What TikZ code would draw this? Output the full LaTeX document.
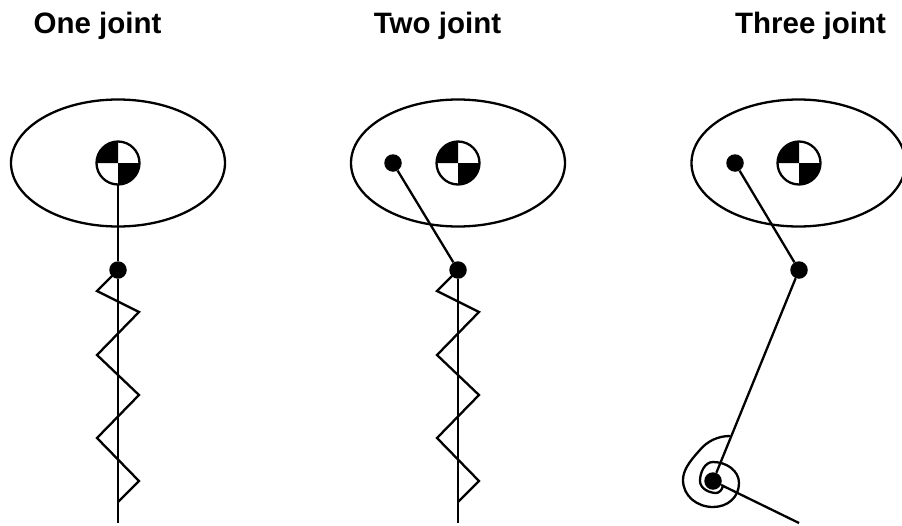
\documentclass[tikz,border=0pt]{standalone}
\usepackage{fontspec}
\setmainfont{Liberation Sans}
\usetikzlibrary{shapes.geometric}
\tikzset{
    body/.style={ellipse,draw,line width=2.3pt,minimum width=214pt,minimum height=127pt,inner sep=0pt},
    com/.style={circle,draw,line width=2.3pt,fill=white,minimum size=43pt,inner sep=0pt,outer sep=0pt},
    joint/.style={circle,fill=black,minimum size=17.5pt,inner sep=0pt},
    link/.style={line width=2.3pt},
    title/.style={font=\fontsize{29.5}{29.5}\selectfont\bfseries,anchor=base}
}
\newcommand{\quadrants}[1]{
    \fill (#1.center) -- (#1.west) arc (180:90:21.5pt) -- cycle;
    \fill (#1.center) -- (#1.east) arc (0:-90:21.5pt) -- cycle;
}
\newcommand{\springfrom}[1]{
    \draw[link,line join=miter] (#1) -- ++(-21,21) -- ++(42,21) -- ++(-42,43) -- ++(42,40) -- ++(-42,43) -- ++(42,43) -- ++(-21,21);
}
\begin{document}
\begin{tikzpicture}[x=1pt,y=-1pt]
    \useasboundingbox (0,0) rectangle (902,525);

    % Titoli
    \node[title] (titleone) at (97.5,33) {One joint};
    \node[title] (titletwo) at (437.5,33) {Two joint};
    \node[title] (titlethree) at (810.5,33) {Three joint};

    % One joint
    \node[body] (bodyone) at (118,163) {};
    \node[com] (comone) at (118,163) {};
    \quadrants{comone}
    \node[joint] (kneeone) at (118,270) {};
    \coordinate (endone) at (118,523);
    \draw[link] (comone) -- (kneeone);
    \draw[link] (kneeone) -- (endone);
    \springfrom{kneeone.center}

    % Two joint
    \node[body] (bodytwo) at (458,163) {};
    \node[com] (comtwo) at (458,163) {};
    \quadrants{comtwo}
    \node[joint] (hiptwo) at (393,163) {};
    \node[joint] (kneetwo) at (458,270) {};
    \coordinate (endtwo) at (458,523);
    \draw[link] (hiptwo) -- (kneetwo);
    \draw[link] (kneetwo) -- (endtwo);
    \springfrom{kneetwo.center}

    % Three joint
    \node[body] (bodythree) at (798.5,163) {};
    \node[com] (comthree) at (799,163) {};
    \quadrants{comthree}
    \node[joint] (hipthree) at (735,163) {};
    \node[joint] (kneethree) at (799,270) {};
    \node[joint] (anklethree) at (713,481) {};
    \coordinate (endthree) at (799,523);
    \coordinate (coilstart) at (730,436);
    \draw[link] (hipthree) -- (kneethree);
    \draw[link] (kneethree) -- (anklethree);
    \draw[link] (anklethree) -- (endthree);
    % Molla
    \draw[link] (coilstart) .. controls (718,436) and (707,441) .. (699,451)
        .. controls (690,461) and (683,470) .. (683,480)
        .. controls (683,496) and (697,507) .. (713,507)
        .. controls (728,507) and (739,497) .. (739,483)
        .. controls (739,471) and (727,462) .. (713,462)
        .. controls (705,462) and (700,472) .. (700,481)
        .. controls (700,489) and (710,493) .. (716,493)
        .. controls (719,493) and (722,490) .. (723,486);
\end{tikzpicture}
\end{document}
